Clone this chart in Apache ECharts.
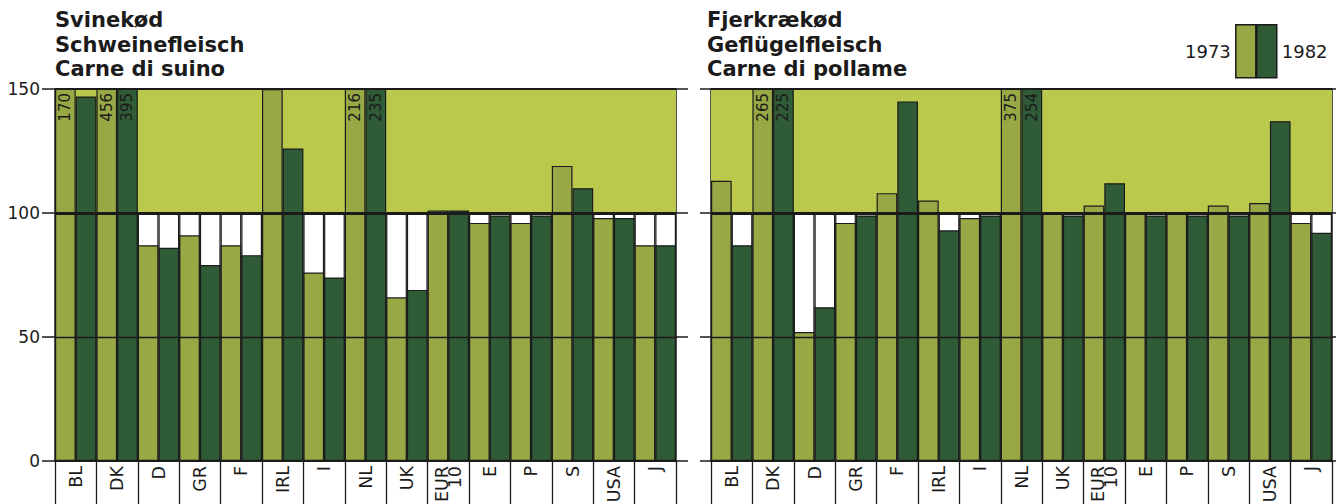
<!DOCTYPE html>
<html>
<head>
<meta charset="utf-8">
<script src="https://cdn.jsdelivr.net/npm/echarts@6/dist/echarts.min.js"></script>
<style>
  html, body { margin: 0; padding: 0; background: #ffffff; }
  #chart { width: 1336px; height: 504px; }
</style>
</head>
<body>
<div id="chart"></div>
<script>
// Self-sufficiency (%), 1973 and 1982
const categories = ['BL', 'DK', 'D', 'GR', 'F', 'IRL', 'I', 'NL', 'UK', 'EUR\n10', 'E', 'P', 'S', 'USA', 'J'];
const years = ['1973', '1982'];

const pork1973 = [170, 456, 87, 91, 87, 150, 76, 216, 66, 101, 96, 96, 119, 98, 87];
const pork1982 = [147, 395, 86, 79, 83, 126, 74, 235, 69, 101, 99, 99, 110, 98, 87];

const poultry1973 = [113, 265, 52, 96, 108, 105, 98, 375, 100, 103, 100, 100, 103, 104, 96];
const poultry1982 = [87, 225, 62, 99, 145, 93, 99, 254, 99, 112, 99, 99, 99, 137, 92];

const panelTitles = [
  'Svinekød\nSchweinefleisch\nCarne di suino',
  'Fjerkrækød\nGeflügelfleisch\nCarne di pollame'
];

const axisMax = 150;      // bars above this are cut off and carry their value
const parity = 100;       // 100 % line
const gridLines = [0, 50, 100, 150];

const ink = '#1b1b1b';
const col73 = '#97a845';
const col82 = '#2f5b37';
const upperBand = '#bac94b';
const font = "'DejaVu Sans', sans-serif";

const chart = echarts.init(document.getElementById('chart'), null, { renderer: 'svg' });

const panels = [
  { left: 55, v73: pork1973, v82: pork1982, leftTick: 13, rightTick: 12, showLabels: true, titleLeft: 55 },
  { left: 711, v73: poultry1973, v82: poultry1982, leftTick: 11, rightTick: 4, showLabels: false, titleLeft: 707 }
];

const grid = [], xAxis = [], yAxis = [], series = [], title = [];

panels.forEach((p, g) => {
  grid.push({ left: p.left, top: 89, width: 621, height: 372, outerBoundsMode: 'none', containLabel: false });

  title.push({
    text: panelTitles[g], left: p.titleLeft, top: 8, padding: 0,
    textStyle: { fontSize: 21, fontWeight: 'bold', fontFamily: font, lineHeight: 24.5, color: ink }
  });

  // visible category axis with label cells
  xAxis.push({
    gridIndex: g, type: 'category', data: categories,
    axisLine: { lineStyle: { color: ink, width: 2 } },
    axisTick: { show: true, interval: 0, length: 43, lineStyle: { color: ink, width: 1.3 } },
    axisLabel: { interval: 0, rotate: 90, margin: 5, fontSize: 17.5, fontFamily: font, color: ink, lineHeight: 13 }
  });
  // hidden twin axis that holds the white cells below 100
  xAxis.push({ gridIndex: g, type: 'category', data: categories, show: false });

  yAxis.push({
    gridIndex: g, type: 'value', min: 0, max: axisMax, interval: 50, position: 'left',
    axisLine: { show: true, lineStyle: { color: ink, width: 1.5 } },
    axisTick: { show: true, length: p.leftTick, lineStyle: { color: ink, width: 1.5 } },
    axisLabel: { show: p.showLabels, margin: 15, fontSize: 17, fontFamily: font, color: ink },
    splitLine: { show: false }
  });
  yAxis.push({
    gridIndex: g, type: 'value', min: 0, max: axisMax, interval: 50, position: 'right',
    axisLine: { show: true, lineStyle: { color: ink, width: 1.5 } },
    axisTick: { show: true, length: p.rightTick, lineStyle: { color: ink, width: 1.5 } },
    axisLabel: { show: false },
    splitLine: { show: false }
  });

  const xMain = 2 * g, xCells = 2 * g + 1, yMain = 2 * g;

  // white cells from 0 to 100, one per bar slot
  [0, 1].forEach((k) => {
    const cell = {
      name: 'cell' + years[k] + '_' + g, type: 'bar', xAxisIndex: xCells, yAxisIndex: yMain,
      data: categories.map(() => parity),
      barGap: 0, barCategoryGap: 0, silent: true, z: 1,
      itemStyle: { color: '#ffffff', borderColor: ink, borderWidth: 1.2 }
    };
    if (k === 0) {
      cell.markArea = {
        silent: true,
        itemStyle: { color: upperBand },
        data: [[{ yAxis: parity }, { yAxis: axisMax }]]
      };
    }
    series.push(cell);
  });

  // the two yearly bars
  [[p.v73, col73], [p.v82, col82]].forEach(([vals, c], k) => {
    series.push({
      name: years[k], type: 'bar', xAxisIndex: xMain, yAxisIndex: yMain,
      data: vals, barGap: 0, barCategoryGap: 0, z: 3, clip: true,
      itemStyle: { color: c, borderColor: ink, borderWidth: 1.2 }
    });
  });

  // values of bars that run past the top of the scale, plus the horizontal rules
  const offTop = [];
  [p.v73, p.v82].forEach((vals, k) => {
    vals.forEach((v, i) => { if (v > axisMax) offTop.push([i, v, k]); });
  });
  series.push({
    type: 'custom', xAxisIndex: xMain, yAxisIndex: yMain, z: 10, silent: true, clip: false,
    data: offTop,
    renderItem: (params, api) => {
      const top = api.coord([api.value(0), axisMax]);
      const band = api.size([1, 0])[0];
      const x = top[0] + (api.value(2) === 0 ? -band / 4 : band / 4);
      return {
        type: 'text', x: x, y: top[1] + 4, rotation: Math.PI / 2,
        style: {
          text: String(api.value(1)), align: 'right', verticalAlign: 'middle',
          fill: ink, fontSize: 15, fontFamily: font
        }
      };
    },
    markLine: {
      silent: true, symbol: 'none', label: { show: false },
      lineStyle: { color: ink, width: 1.5, type: 'solid' },
      data: gridLines.map((v) => ({
        yAxis: v,
        lineStyle: { color: ink, type: 'solid', width: v === parity ? 3 : (v === 50 ? 1.3 : 2) }
      }))
    }
  });
});

const legendBase = {
  top: 24, padding: 0, itemWidth: 20, itemHeight: 53, icon: 'rect', selectedMode: false,
  itemStyle: { borderColor: ink, borderWidth: 1.5 },
  textStyle: { fontSize: 18, fontFamily: font, color: ink }
};

chart.setOption({
  animation: false,
  backgroundColor: '#ffffff',
  title: title,
  legend: [
    Object.assign({}, legendBase, { data: ['1973'], left: 1185, align: 'right' }),
    Object.assign({}, legendBase, { data: ['1982'], left: 1256, align: 'left' })
  ],
  grid: grid,
  xAxis: xAxis,
  yAxis: yAxis,
  series: series
});
</script>
</body>
</html>
